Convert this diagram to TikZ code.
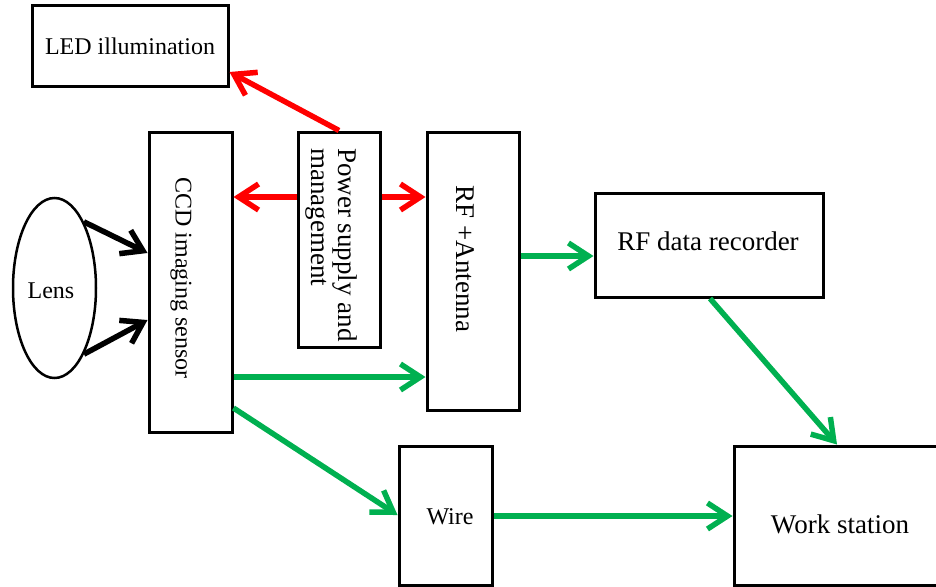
\documentclass[tikz,border=0pt]{standalone}
\usepackage{fontspec}
\setmainfont{Liberation Serif}
\usetikzlibrary{arrows.meta,shapes.geometric}
\definecolor{arrred}{RGB}{255,0,0}
\definecolor{arrgreen}{RGB}{0,176,80}
\begin{document}
\begin{tikzpicture}[x=1pt,y=-1pt,
  box/.style={draw, line width=3pt, rectangle, inner sep=0pt},
  bigtxt/.style={inner sep=0pt, font=\fontsize{27}{27}\selectfont},
  smalltxt/.style={inner sep=0pt, font=\fontsize{24}{24}\selectfont},
  conn/.style={line width=5.5pt, -{Straight Barb[length=20pt,width=26pt]}},
  redarr/.style={conn, draw=arrred},
  greenarr/.style={conn, draw=arrgreen},
  blackarr/.style={conn, draw=black}]
\useasboundingbox (0,0) rectangle (936,586);
\clip (0,0) rectangle (936,586);
% boxes
\node[box, minimum width=196pt, minimum height=80pt, smalltxt] (led) at (130,46) {LED illumination};
\node[box, minimum width=83pt, minimum height=300pt] (ccd) at (190.5,282) {};
\node[smalltxt, rotate=-90] (ccdtxt) at (181,278) {CCD imaging sensor};
\node[box, minimum width=82pt, minimum height=215pt] (pow) at (339,239.5) {};
\node[bigtxt, rotate=-90, align=left, anchor=north west] (powtxt) at (357,148) {Power supply and\\management};
\node[box, minimum width=92pt, minimum height=278pt] (rf) at (473,271) {};
\node[bigtxt, rotate=-90] (rftxt) at (465,259) {RF +Antenna};
\node[box, minimum width=228pt, minimum height=104pt] (rec) at (709,245) {};
\node[bigtxt] (rectxt) at (708,241) {RF data recorder};
\node[box, minimum width=93pt, minimum height=139pt] (wire) at (445.5,515.5) {};
\node[smalltxt] (wiretxt) at (450,517) {Wire};
\node[box, minimum width=216pt, minimum height=139pt] (work) at (842,515.5) {};
\node[bigtxt] (worktxt) at (840,524) {Work station};
\node[draw, ellipse, line width=2.5pt, minimum width=83pt, minimum height=180pt, inner sep=0pt] (lens) at (54.5,288) {};
\node[smalltxt] (lenstxt) at (51,291) {Lens};
% connectors
\draw[redarr] (pow.north) -- (led.east |- 0,72);
\draw[redarr] (pow.west |- 0,197) -- (ccd.east |- 0,197);
\draw[redarr] (pow.east |- 0,197) -- (rf.west |- 0,197);
\draw[greenarr] (rf.east |- 0,256) -- (rec.west |- 0,256);
\draw[greenarr] (ccd.east |- 0,377) -- (rf.west |- 0,377);
\draw[greenarr] (ccd.east |- 0,408) -- (wire.west |- 0,515);
\draw[greenarr] (wire.east |- 0,516) -- (work.west |- 0,516);
\draw[greenarr] (rec.south -| 710,0) -- (work.north -| 837,0);
\draw[blackarr] (lens.66) -- (ccd.west |- 0,253);
\draw[blackarr] (lens.-66) -- (ccd.west |- 0,320);
\end{tikzpicture}
\end{document}
